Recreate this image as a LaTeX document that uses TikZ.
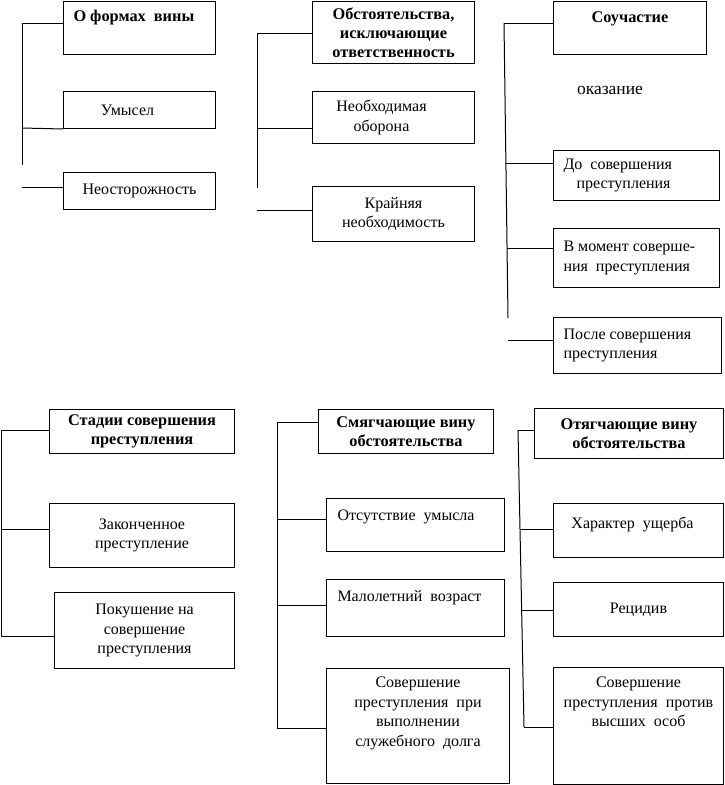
\documentclass[tikz,border=0pt]{standalone}
\usepackage{fontspec}
\setmainfont{Liberation Serif}

\begin{document}
\begin{tikzpicture}[x=1pt, y=-1pt, line width=1pt,
    box/.style={draw, inner sep=0pt, anchor=north west, font=\fontsize{16}{19.5}\selectfont},
    head/.style={box, font=\fontsize{16.3}{19}\selectfont\bfseries}]

\useasboundingbox (0,0) rectangle (725,785);

% О формах вины
\node[head] (vina) at (63,1) {\parbox[c][53pt][t]{152pt}{\rule{0pt}{20pt}\hspace*{10pt}О формах~~вины}};
\node[box] (umysel) at (63,91) {\parbox[c][37pt][c]{152pt}{\centering\rightskip=24pt plus 1fil Умысел}};
\node[box] (neost) at (63,172) {\parbox[c][37pt][c]{152pt}{\centering Неосторожность}};

\coordinate (a0) at (22,23);
\coordinate (a1) at (22,128);
\coordinate (a2) at (22,165);
\coordinate (a3) at (22,187);
\draw (a0) -- (a2);
\draw (a0) -- (a0 -| vina.west);
\draw (a1) -- (umysel.south west);
\draw (a3) -- (a3 -| neost.west);

% Обстоятельства, исключающие ответственность
\node[head] (iskl) at (312,1) {\parbox[c][62pt][c]{162pt}{\centering Обстоятельства,\\исключающие\\ответственность}};
\node[box] (oborona) at (312,91) {\parbox[c][52pt][c]{162pt}{\centering\rightskip=24pt plus 1fil Необходимая\\оборона}};
\node[box] (krain) at (312,186) {\parbox[c][55pt][c]{162pt}{\centering Крайняя\\необходимость}};

\coordinate (b0) at (257,33);
\coordinate (b1) at (257,128);
\coordinate (b2) at (257,188);
\coordinate (b3) at (257,210);
\draw (b0) -- (b2);
\draw (b0) -- (b0 -| iskl.west);
\draw (b1) -- (b1 -| oborona.west);
\draw (b3) -- (b3 -| krain.west);

% Соучастие
\node[head] (souch) at (553,1) {\parbox[c][53pt][t]{153pt}{\centering\rule{0pt}{21pt}Соучастие}};
\node[font=\fontsize{17.5}{21}\selectfont] (okaz) at (610,90) {оказание};
\node[box] (do) at (553,150) {\parbox[c][50pt][c]{166pt}{\raggedright\leftskip=10pt До~~совершения\\\hspace*{13pt}преступления}};
\node[box] (moment) at (553,228) {\parbox[c][59pt][c]{166pt}{\raggedright\leftskip=10pt В момент соверше-\\ния~~преступления}};
\node[box] (posle) at (553,317) {\parbox[c][56pt][c]{168pt}{\raggedright\leftskip=10pt После совершения\\преступления}};

\coordinate (c0) at (504,23);
\coordinate (c1) at (506,163);
\coordinate (c2) at (507,248);
\coordinate (c3) at (508,318);
\coordinate (c4) at (508,340);
\draw (c0) -- (c3);
\draw (c0) -- (c0 -| souch.west);
\draw (c1) -- (c1 -| do.west);
\draw (c2) -- (c2 -| moment.west);
\draw (c4) -- (c4 -| posle.west);

% Стадии совершения преступления
\node[head] (stadii) at (49,409) {\parbox[c][44pt][c]{185pt}{\centering Стадии совершения\\преступления}};
\node[box] (zakon) at (49,503) {\parbox[c][64pt][c]{185pt}{\centering Законченное\\преступление}};
\node[box] (pokush) at (54,592) {\parbox[c][76pt][c]{180pt}{\centering Покушение на\\совершение\\преступления}};

\coordinate (d0) at (1,430);
\coordinate (d1) at (1,529);
\coordinate (d2) at (1,636);
\draw (d0) -- (d2);
\draw (d0) -- (d0 -| stadii.west);
\draw (d1) -- (d1 -| zakon.west);
\draw (d2) -- (d2 -| pokush.west);

% Смягчающие вину обстоятельства
\node[head] (smyag) at (318,409) {\parbox[c][44pt][c]{175pt}{\centering Смягчающие вину\\обстоятельства}};
\node[box] (otsut) at (326,498) {\parbox[c][53pt][t]{178pt}{\raggedright\leftskip=11pt\rule{0pt}{22pt}Отсутствие~~умысла}};
\node[box] (malol) at (326,579) {\parbox[c][57pt][t]{178pt}{\raggedright\leftskip=11pt\rule{0pt}{22pt}Малолетний~~возраст}};
\node[box] (sovsl) at (326,668) {\parbox[c][115pt][t]{183pt}{\centering\rule{0pt}{19pt}Совершение\\преступления~~при\\выполнении\\служебного~~долга}};

\coordinate (e0) at (277,422);
\coordinate (e1) at (277,519);
\coordinate (e2) at (277,605);
\coordinate (e3) at (277,728);
\draw (e0) -- (e3);
\draw (e0) -- (e0 -| smyag.west);
\draw (e1) -- (e1 -| otsut.west);
\draw (e2) -- (e2 -| malol.west);
\draw (e3) -- (e3 -| sovsl.west);

% Отягчающие вину обстоятельства
\node[head] (otyag) at (534,408) {\parbox[c][50pt][c]{189pt}{\centering Отягчающие вину\\обстоятельства}};
\node[box] (harakt) at (553,503) {\parbox[c][54pt][t]{170pt}{\centering\rightskip=12pt plus 1fil\rule{0pt}{25pt}Характер~~ущерба}};
\node[box] (recid) at (553,582) {\parbox[c][54pt][c]{170pt}{\centering Рецидив}};
\node[box] (sovvys) at (553,667) {\parbox[c][117pt][t]{170pt}{\centering\rule{0pt}{20pt}Совершение\\преступления~~против\\высших~~особ}};

\coordinate (f0) at (518,430);
\coordinate (f1) at (520,529);
\coordinate (f2) at (521.5,610);
\coordinate (f3) at (524,727);
\draw (f0) -- (f3);
\draw (f0) -- (f0 -| otyag.west);
\draw (f1) -- (f1 -| harakt.west);
\draw (f2) -- (f2 -| recid.west);
\draw (f3) -- (f3 -| sovvys.west);

\end{tikzpicture}
\end{document}
